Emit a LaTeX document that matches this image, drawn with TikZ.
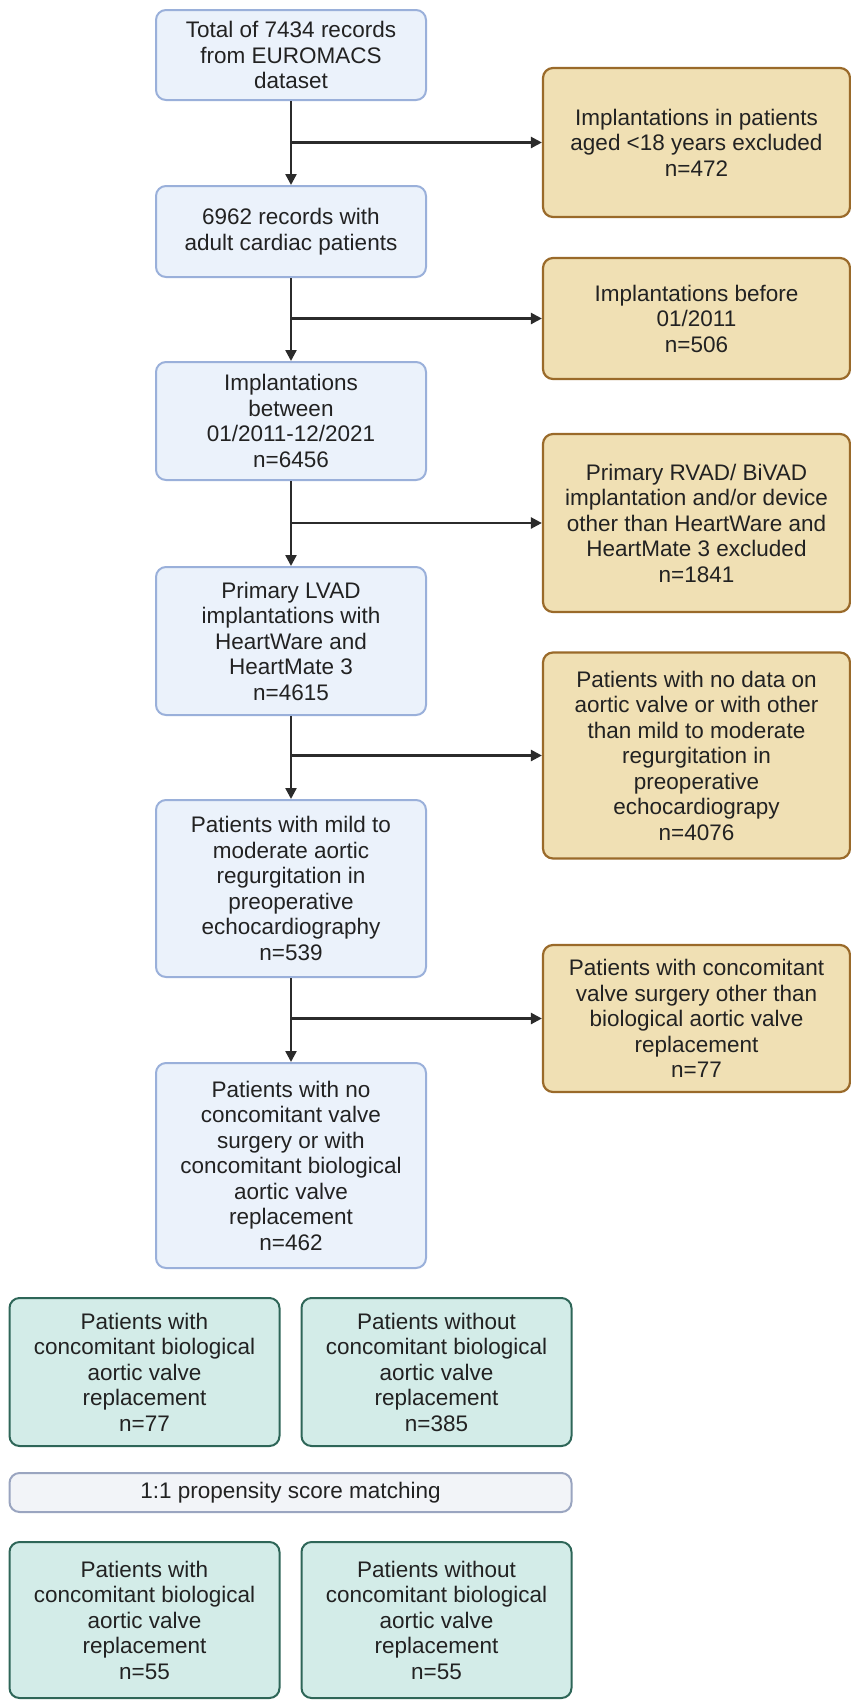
\documentclass[tikz,border=0pt]{standalone}
\usepackage{fontspec}
\setmainfont{Liberation Sans}
\usetikzlibrary{arrows.meta}
\definecolor{bluefill}{HTML}{EBF2FB}
\definecolor{blueline}{HTML}{9AB0DA}
\definecolor{beigefill}{HTML}{F0E0B4}
\definecolor{beigeline}{HTML}{9A6A2A}
\definecolor{tealfill}{HTML}{D3ECE8}
\definecolor{tealline}{HTML}{2E6658}
\definecolor{greyfill}{HTML}{F2F4F8}
\definecolor{greyline}{HTML}{9AA5C0}
\definecolor{ink}{HTML}{222222}
\definecolor{arrowc}{HTML}{2B2B2B}
\tikzset{
  box/.style={rectangle, rounded corners=10pt, align=center, inner sep=2pt,
    font=\fontsize{22.5pt}{25.5pt}\selectfont, text=ink},
  mainbox/.style={box, fill=bluefill, draw=blueline, line width=2pt, minimum width=270pt},
  exclbox/.style={box, fill=beigefill, draw=beigeline, line width=2.2pt, minimum width=307pt},
  tealbox/.style={box, fill=tealfill, draw=tealline, line width=2pt, minimum width=270pt},
  greybox/.style={box, fill=greyfill, draw=greyline, line width=2pt},
  flow/.style={draw=arrowc, line width=2.4pt, -{Triangle[length=11pt,width=11pt]}},
}
\begin{document}
\begin{tikzpicture}[x=1pt,y=-1pt]
\useasboundingbox (0,0) rectangle (851,1700);
% main column
\node[mainbox, minimum height=90pt] (m1) at (291,55) {Total of 7434 records\\from EUROMACS\\dataset};
\node[mainbox, minimum height=91pt] (m2) at (291,231.5) {6962 records with\\adult cardiac patients};
\node[mainbox, minimum height=118pt] (m3) at (291,421) {Implantations\\between\\01/2011-12/2021\\n=6456};
\node[mainbox, minimum height=148pt] (m4) at (291,641) {Primary LVAD\\implantations with\\HeartWare and\\HeartMate 3\\n=4615};
\node[mainbox, minimum height=177pt] (m5) at (291,888.5) {Patients with mild to\\moderate aortic\\regurgitation in\\preoperative\\echocardiography\\n=539};
\node[mainbox, minimum height=205pt] (m6) at (291,1165.5) {Patients with no\\concomitant valve\\surgery or with\\concomitant biological\\aortic valve\\replacement\\n=462};
% exclusion column
\node[exclbox, minimum height=149pt] (e1) at (696.5,142.5) {Implantations in patients\\aged <18 years excluded\\n=472};
\node[exclbox, minimum height=121pt] (e2) at (696.5,318.5) {Implantations before\\01/2011\\n=506};
\node[exclbox, minimum height=178pt] (e3) at (696.5,523) {Primary RVAD/ BiVAD\\implantation and/or device\\other than HeartWare and\\HeartMate 3 excluded\\n=1841};
\node[exclbox, minimum height=206pt] (e4) at (696.5,755.5) {Patients with no data on\\aortic valve or with other\\than mild to moderate\\regurgitation in\\preoperative\\echocardiograpy\\n=4076};
\node[exclbox, minimum height=147pt] (e5) at (696.5,1018.5) {Patients with concomitant\\valve surgery other than\\biological aortic valve\\replacement\\n=77};
% groups
\node[tealbox, minimum height=148pt] (g1) at (144.5,1372) {Patients with\\concomitant biological\\aortic valve\\replacement\\n=77};
\node[tealbox, minimum height=148pt] (g2) at (436.5,1372) {Patients without\\concomitant biological\\aortic valve\\replacement\\n=385};
\node[greybox, minimum width=562pt, minimum height=39pt] (psm) at (290.5,1492.5) {1:1 propensity score matching};
\node[tealbox, minimum height=156pt] (h1) at (144.5,1620) {Patients with\\concomitant biological\\aortic valve\\replacement\\n=55};
\node[tealbox, minimum height=156pt] (h2) at (436.5,1620) {Patients without\\concomitant biological\\aortic valve\\replacement\\n=55};
% connectors
\foreach \a/\b/\e in {m1/m2/e1, m2/m3/e2, m3/m4/e3, m4/m5/e4, m5/m6/e5} {
  \draw[flow] (\a.south) -- (\b.north);
  \draw[flow] (\a.south |- \e.west) -- (\e.west);
}
\end{tikzpicture}
\end{document}
